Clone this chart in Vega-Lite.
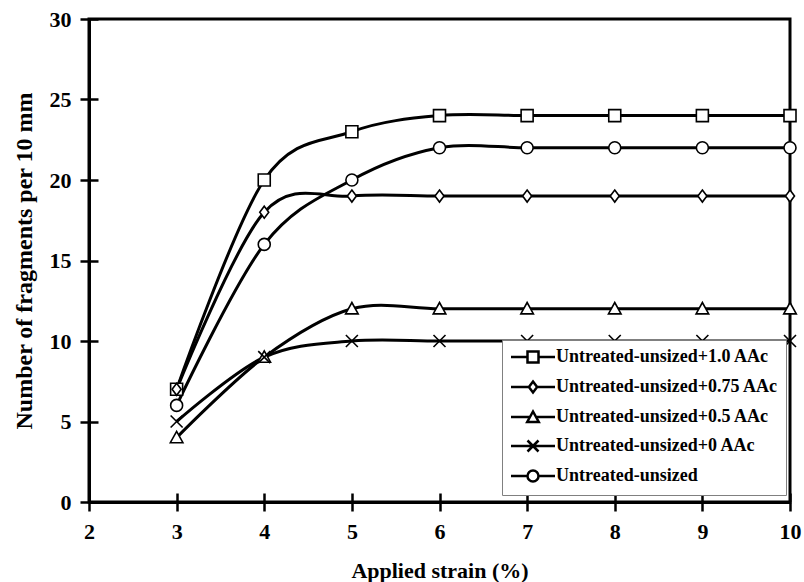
{
  "$schema": "https://vega.github.io/schema/vega-lite/v6.json",
  "width": 701,
  "height": 483,
  "autosize": {"type": "none"},
  "padding": {"left": 89, "top": 19, "right": 14, "bottom": 80},
  "background": "white",
  "config": {
    "view": {"stroke": "black", "strokeWidth": 3},
    "font": "Liberation Serif",
    "axis": {
      "domainColor": "black", "domainWidth": 3,
      "tickColor": "black", "tickWidth": 2.5, "tickSize": 9,
      "labelFont": "Liberation Serif", "labelFontWeight": "bold", "labelFontSize": 22, "labelColor": "black",
      "titleFont": "Liberation Serif", "titleFontWeight": "bold", "titleFontSize": 22, "titleColor": "black",
      "grid": false, "labelFlush": false
    }
  },
  "data": {"values": [
    {"series": "Untreated-unsized+1.0 AAc", "strain": 3, "n": 7},
    {"series": "Untreated-unsized+1.0 AAc", "strain": 4, "n": 20},
    {"series": "Untreated-unsized+1.0 AAc", "strain": 5, "n": 23},
    {"series": "Untreated-unsized+1.0 AAc", "strain": 6, "n": 24},
    {"series": "Untreated-unsized+1.0 AAc", "strain": 7, "n": 24},
    {"series": "Untreated-unsized+1.0 AAc", "strain": 8, "n": 24},
    {"series": "Untreated-unsized+1.0 AAc", "strain": 9, "n": 24},
    {"series": "Untreated-unsized+1.0 AAc", "strain": 10, "n": 24},
    {"series": "Untreated-unsized+0.75 AAc", "strain": 3, "n": 7},
    {"series": "Untreated-unsized+0.75 AAc", "strain": 4, "n": 18},
    {"series": "Untreated-unsized+0.75 AAc", "strain": 5, "n": 19},
    {"series": "Untreated-unsized+0.75 AAc", "strain": 6, "n": 19},
    {"series": "Untreated-unsized+0.75 AAc", "strain": 7, "n": 19},
    {"series": "Untreated-unsized+0.75 AAc", "strain": 8, "n": 19},
    {"series": "Untreated-unsized+0.75 AAc", "strain": 9, "n": 19},
    {"series": "Untreated-unsized+0.75 AAc", "strain": 10, "n": 19},
    {"series": "Untreated-unsized+0.5 AAc", "strain": 3, "n": 4},
    {"series": "Untreated-unsized+0.5 AAc", "strain": 4, "n": 9},
    {"series": "Untreated-unsized+0.5 AAc", "strain": 5, "n": 12},
    {"series": "Untreated-unsized+0.5 AAc", "strain": 6, "n": 12},
    {"series": "Untreated-unsized+0.5 AAc", "strain": 7, "n": 12},
    {"series": "Untreated-unsized+0.5 AAc", "strain": 8, "n": 12},
    {"series": "Untreated-unsized+0.5 AAc", "strain": 9, "n": 12},
    {"series": "Untreated-unsized+0.5 AAc", "strain": 10, "n": 12},
    {"series": "Untreated-unsized+0 AAc", "strain": 3, "n": 5},
    {"series": "Untreated-unsized+0 AAc", "strain": 4, "n": 9},
    {"series": "Untreated-unsized+0 AAc", "strain": 5, "n": 10},
    {"series": "Untreated-unsized+0 AAc", "strain": 6, "n": 10},
    {"series": "Untreated-unsized+0 AAc", "strain": 7, "n": 10},
    {"series": "Untreated-unsized+0 AAc", "strain": 8, "n": 10},
    {"series": "Untreated-unsized+0 AAc", "strain": 9, "n": 10},
    {"series": "Untreated-unsized+0 AAc", "strain": 10, "n": 10},
    {"series": "Untreated-unsized", "strain": 3, "n": 6},
    {"series": "Untreated-unsized", "strain": 4, "n": 16},
    {"series": "Untreated-unsized", "strain": 5, "n": 20},
    {"series": "Untreated-unsized", "strain": 6, "n": 22},
    {"series": "Untreated-unsized", "strain": 7, "n": 22},
    {"series": "Untreated-unsized", "strain": 8, "n": 22},
    {"series": "Untreated-unsized", "strain": 9, "n": 22},
    {"series": "Untreated-unsized", "strain": 10, "n": 22}
  ]},
  "layer": [
    {
      "mark": {"type": "line", "interpolate": "cardinal", "tension": 0, "color": "black", "strokeWidth": 3},
      "encoding": {
        "x": {"field": "strain", "type": "quantitative",
          "scale": {"domain": [2, 10], "nice": false, "zero": false},
          "axis": {"orient": "bottom", "title": "Applied strain (%)", "values": [2, 3, 4, 5, 6, 7, 8, 9, 10], "labelPadding": 10, "titlePadding": 18}},
        "y": {"field": "n", "type": "quantitative",
          "scale": {"domain": [0, 30], "nice": false},
          "axis": {"orient": "left", "title": "Number of fragments per 10 mm", "titleFontSize": 24, "values": [0, 5, 10, 15, 20, 25, 30], "labelPadding": 9, "titlePadding": 13}},
        "detail": {"field": "series"}
      }
    },
    {
      "mark": {"type": "point", "fill": "white", "stroke": "black", "strokeWidth": 1.6, "opacity": 1, "size": 144},
      "encoding": {
        "x": {"field": "strain", "type": "quantitative",
          "axis": {"orient": "top", "offset": -483, "title": null, "labels": false, "domain": false, "tickSize": 9, "values": [2, 3, 4, 5, 6, 7, 8, 9, 10]}},
        "y": {"field": "n", "type": "quantitative",
          "axis": {"orient": "right", "offset": -701, "title": null, "labels": false, "domain": false, "tickSize": 9, "values": [0, 5, 10, 15, 20, 25, 30]}},
        "shape": {"field": "series", "type": "nominal",
          "scale": {
            "domain": ["Untreated-unsized+1.0 AAc", "Untreated-unsized+0.75 AAc", "Untreated-unsized+0.5 AAc", "Untreated-unsized+0 AAc", "Untreated-unsized"],
            "range": ["M-1,-1H1V1H-1Z", "M0,-1L0.75,0L0,1L-0.75,0Z", "M0,-1.05L1.05,0.85H-1.05Z", "M-1,-1L1,1M1,-1L-1,1", "M-1,0A1,1 0 1,0 1,0A1,1 0 1,0 -1,0Z"]},
          "legend": null}
      }
    },
    {
      "mark": {"type": "point", "filled": false, "color": "black", "opacity": 0, "size": 121},
      "encoding": {
        "x": {"field": "strain", "type": "quantitative", "axis": null},
        "y": {"field": "n", "type": "quantitative", "axis": null},
        "shape": {"field": "series", "type": "nominal",
          "scale": {
            "domain": ["Untreated-unsized+1.0 AAc", "Untreated-unsized+0.75 AAc", "Untreated-unsized+0.5 AAc", "Untreated-unsized+0 AAc", "Untreated-unsized"],
            "range": [
              "M-4,0H-1M1,0H4M-1,-1H1V1H-1Z",
              "M-4,0H-0.75M0.75,0H4M0,-1L0.75,0L0,1L-0.75,0Z",
              "M-4,0H-0.53M0.53,0H4M0,-1L1.05,0.9H-1.05Z",
              "M-4,0H4M-1,-1L1,1M1,-1L-1,1",
              "M-4,0H-1M1,0H4M-1,0A1,1 0 1,0 1,0A1,1 0 1,0 -1,0Z"
            ]},
          "legend": {
            "title": null, "orient": "none", "legendX": 413, "legendY": 321,
            "padding": 8, "fillColor": "white", "strokeColor": "#808080",
            "labelFont": "Liberation Serif", "labelFontWeight": "bold", "labelFontSize": 18, "labelColor": "black", "labelLimit": 0,
            "symbolSize": 121, "symbolStrokeWidth": 2.5, "symbolOffset": 14, "labelOffset": 14, "rowPadding": 8,
            "symbolStrokeColor": "black", "symbolFillColor": "white"
          }}
      }
    }
  ],
  "resolve": {"scale": {"shape": "independent"}, "axis": {"x": "independent", "y": "independent"}}
}
